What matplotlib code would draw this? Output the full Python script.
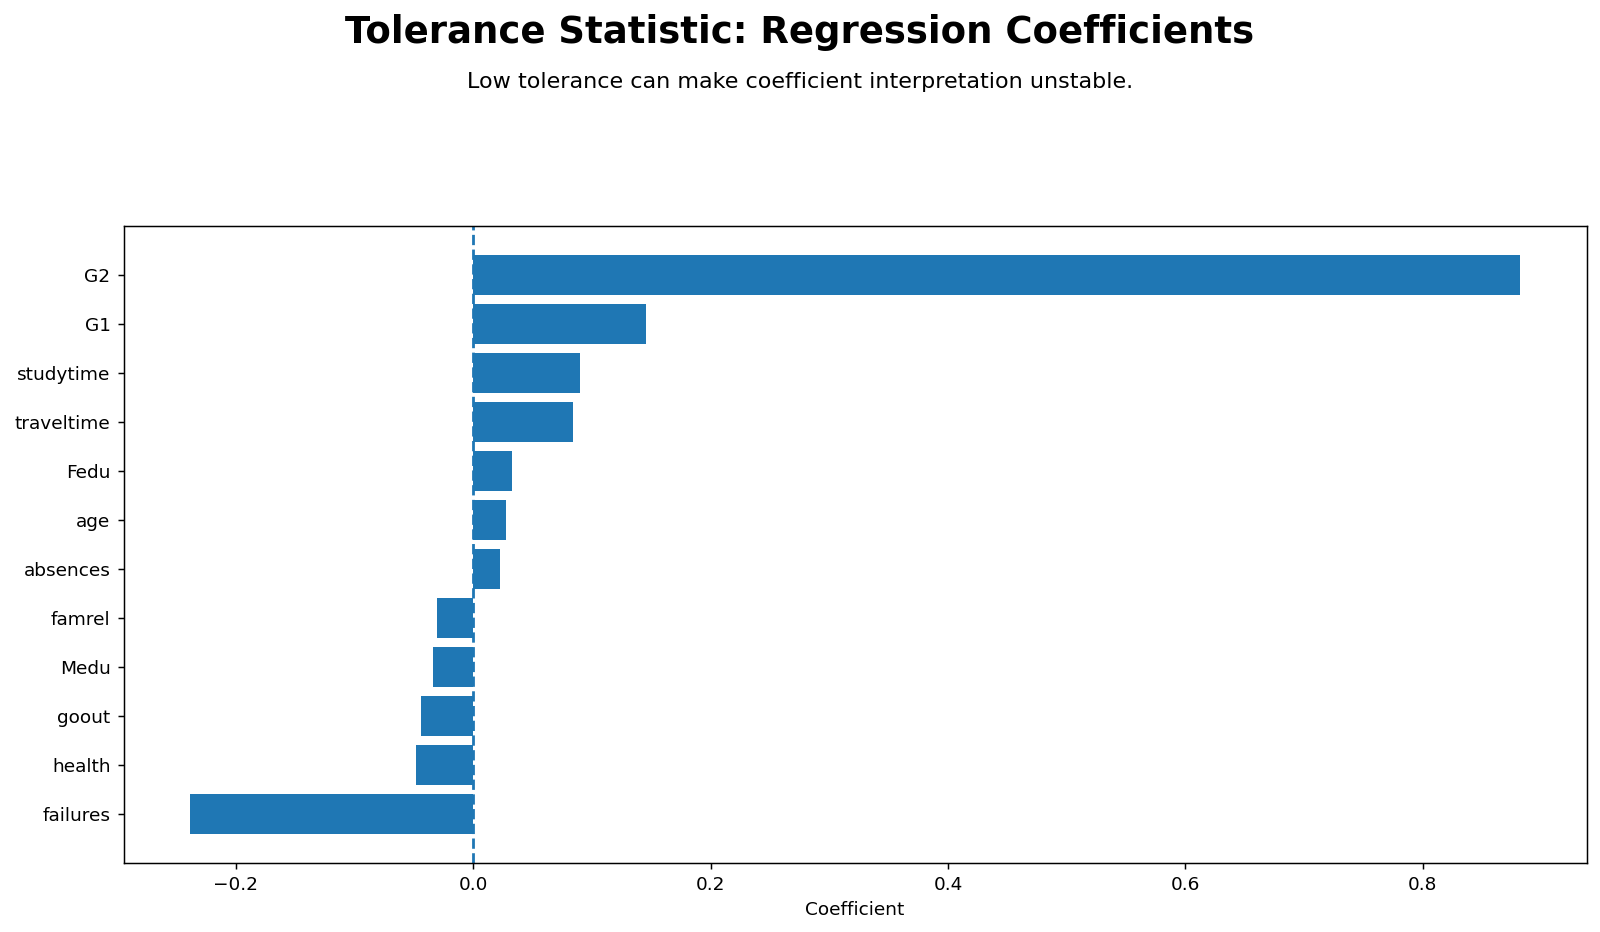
import numpy as np
import matplotlib
matplotlib.use("Agg")
import matplotlib.pyplot as plt

features = ["G2", "G1", "studytime", "traveltime", "Fedu", "age", "absences",
            "famrel", "Medu", "goout", "health", "failures"]
coefs = [0.8823, 0.1456, 0.0896, 0.0840, 0.0329, 0.0278, 0.0228,
         -0.0309, -0.0342, -0.0443, -0.0485, -0.2387]

fig, ax = plt.subplots(figsize=(12, 6.99), dpi=133.34)
fig.subplots_adjust(left=0.0772, right=0.9917, top=0.757, bottom=0.0745)

y = np.arange(len(features))[::-1]
ax.barh(y, coefs, color="#1f77b4")
ax.axvline(0, linestyle="--", color="#1f77b4", linewidth=1.5)
ax.set_yticks(y)
ax.set_yticklabels(features)
ax.set_xlabel("Coefficient")

fig.suptitle("Tolerance Statistic: Regression Coefficients", fontsize=20,
             fontweight="bold", y=0.965, va="center")
fig.text(0.5, 0.912, "Low tolerance can make coefficient interpretation unstable.",
         ha="center", va="center", fontsize=12)

fig.savefig("out.png")
